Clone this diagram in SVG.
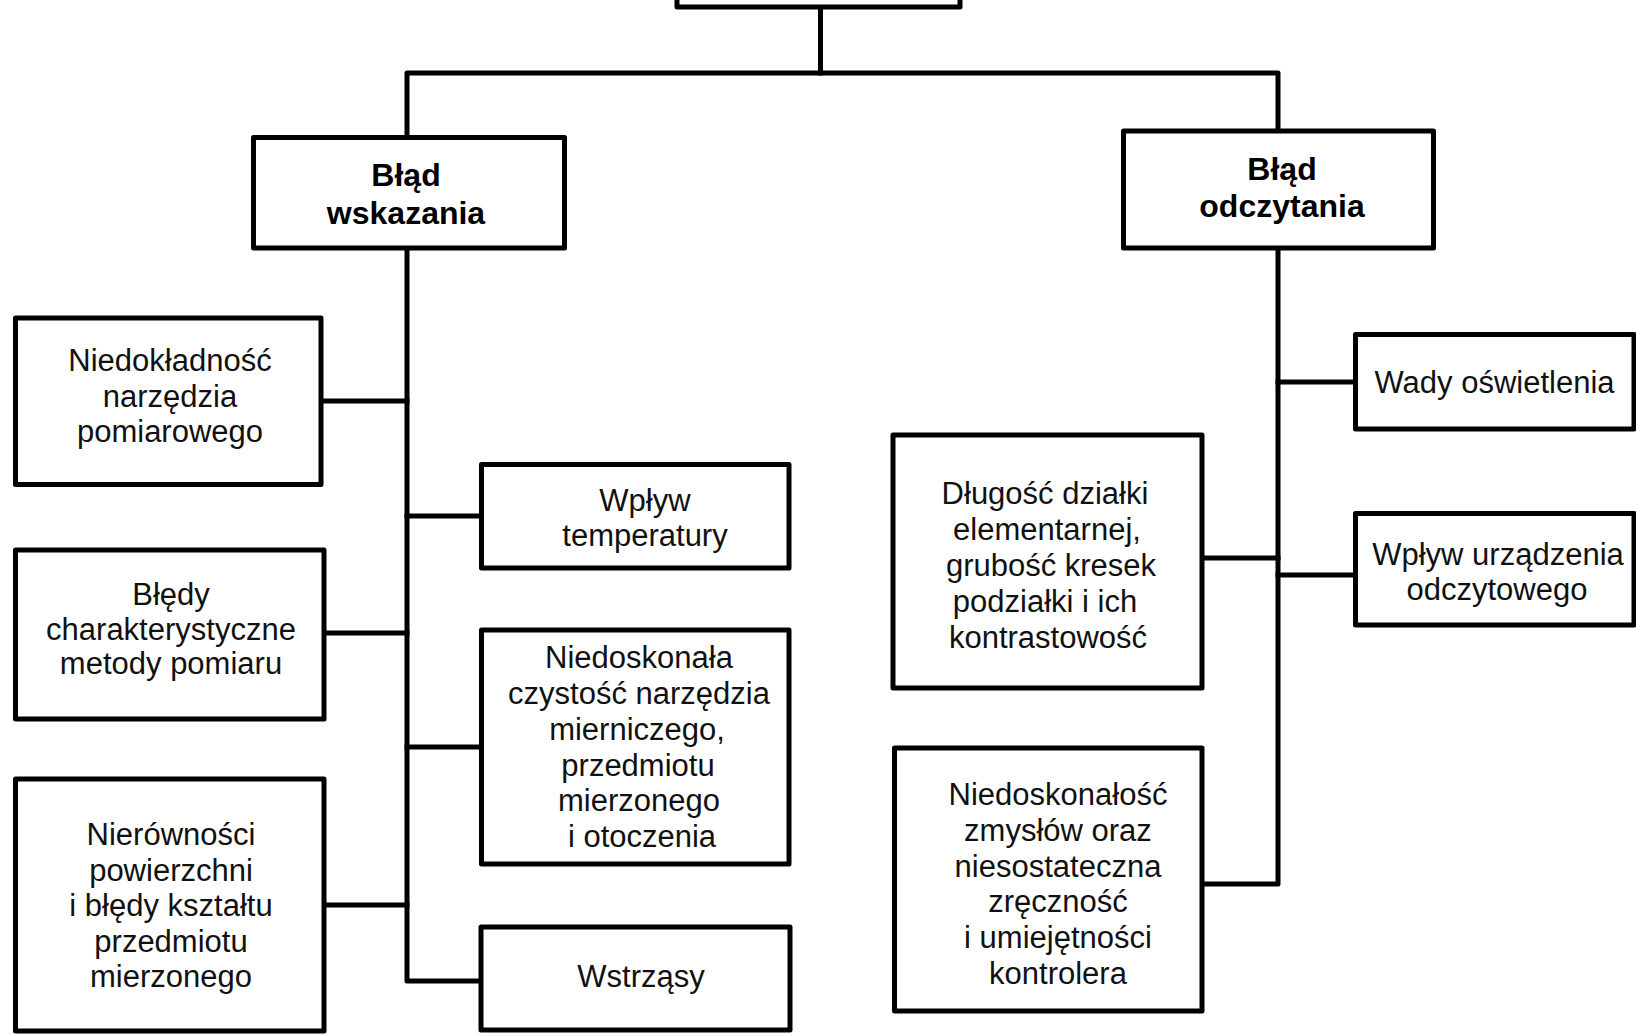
<svg xmlns="http://www.w3.org/2000/svg" width="1636" height="1035" viewBox="0 0 1636 1035">
<style>
  .box { fill: #fff; stroke: #000; stroke-width: 5; stroke-linejoin: round; }
  .conn { fill: none; stroke: #000; stroke-width: 5; stroke-linejoin: round; stroke-linecap: square; }
  .t { font-family: "Liberation Sans", Arial, sans-serif; font-size: 31px; fill: #111; text-anchor: middle; }
  .b { font-family: "Liberation Sans", Arial, sans-serif; font-size: 32px; font-weight: bold; fill: #000; text-anchor: middle; }
</style>
<rect width="1636" height="1035" fill="#fff"/>
<g id="connectors">
  <path class="conn" d="M820.5,7 V73"/>
  <path class="conn" d="M407,137 V73 H1278 V131"/>
  <path class="conn" d="M407,248 V981 H481"/>
  <path class="conn" d="M321,401 H407"/>
  <path class="conn" d="M324,633 H407"/>
  <path class="conn" d="M324,905 H407"/>
  <path class="conn" d="M407,516 H481"/>
  <path class="conn" d="M407,747 H481"/>
  <path class="conn" d="M1278,248 V884 H1202"/>
  <path class="conn" d="M1202,558 H1278"/>
  <path class="conn" d="M1278,382 H1355"/>
  <path class="conn" d="M1278,575 H1355"/>
</g>
<g id="root">
  <rect class="box" x="677" y="-60" width="283" height="67"/>
</g>
<g id="blad-wskazania">
  <rect class="box" x="253.5" y="137.5" width="311" height="110.5"/>
  <text class="b" x="406" y="186">Błąd</text>
  <text class="b" x="406" y="224">wskazania</text>
</g>
<g id="blad-odczytania">
  <rect class="box" x="1123.5" y="131" width="310" height="117"/>
  <text class="b" x="1282" y="180">Błąd</text>
  <text class="b" x="1282" y="217">odczytania</text>
</g>
<g id="niedokladnosc">
  <rect class="box" x="15.5" y="318" width="305.5" height="166.5"/>
  <text class="t" x="170" y="371">Niedokładność</text>
  <text class="t" x="170" y="406.5">narzędzia</text>
  <text class="t" x="170" y="442">pomiarowego</text>
</g>
<g id="bledy-charakterystyczne">
  <rect class="box" x="15.5" y="550" width="308.5" height="169"/>
  <text class="t" x="171" y="605">Błędy</text>
  <text class="t" x="171" y="639.5">charakterystyczne</text>
  <text class="t" x="171" y="674">metody pomiaru</text>
</g>
<g id="nierownosci">
  <rect class="box" x="15.5" y="779" width="308.5" height="252"/>
  <text class="t" x="171" y="845">Nierówności</text>
  <text class="t" x="171" y="880.5">powierzchni</text>
  <text class="t" x="171" y="916">i błędy kształtu</text>
  <text class="t" x="171" y="951.5">przedmiotu</text>
  <text class="t" x="171" y="987">mierzonego</text>
</g>
<g id="wplyw-temperatury">
  <rect class="box" x="481.5" y="464.5" width="307.5" height="103.5"/>
  <text class="t" x="645" y="511">Wpływ</text>
  <text class="t" x="645" y="546">temperatury</text>
</g>
<g id="niedoskonala-czystosc">
  <rect class="box" x="481.5" y="630" width="307.5" height="234"/>
  <text class="t" x="639" y="668">Niedoskonała</text>
  <text class="t" x="639" y="704">czystość narzędzia</text>
  <text class="t" x="637" y="740">mierniczego,</text>
  <text class="t" x="638" y="775.5">przedmiotu</text>
  <text class="t" x="639" y="811">mierzonego</text>
  <text class="t" x="642" y="847">i otoczenia</text>
</g>
<g id="wstrzasy">
  <rect class="box" x="481" y="927" width="309" height="103"/>
  <text class="t" x="641" y="987">Wstrząsy</text>
</g>
<g id="wady-oswietlenia">
  <rect class="box" x="1355.5" y="334.5" width="278.5" height="94.5"/>
  <text class="t" x="1494.5" y="393">Wady oświetlenia</text>
</g>
<g id="wplyw-urzadzenia">
  <rect class="box" x="1355.5" y="513.5" width="278.5" height="111.5"/>
  <text class="t" x="1498" y="565">Wpływ urządzenia</text>
  <text class="t" x="1497" y="600">odczytowego</text>
</g>
<g id="dlugosc-dzialki">
  <rect class="box" x="893" y="435" width="309" height="253"/>
  <text class="t" x="1045" y="504">Długość działki</text>
  <text class="t" x="1047" y="540">elementarnej,</text>
  <text class="t" x="1051" y="576">grubość kresek</text>
  <text class="t" x="1045" y="612">podziałki i ich</text>
  <text class="t" x="1048" y="648">kontrastowość</text>
</g>
<g id="niedoskonalosc-zmyslow">
  <rect class="box" x="894.5" y="748" width="307.5" height="263"/>
  <text class="t" x="1058" y="805">Niedoskonałość</text>
  <text class="t" x="1058" y="841">zmysłów oraz</text>
  <text class="t" x="1058" y="876.5">niesostateczna</text>
  <text class="t" x="1058" y="912">zręczność</text>
  <text class="t" x="1058" y="948">i umiejętności</text>
  <text class="t" x="1058" y="983.5">kontrolera</text>
</g>
</svg>
